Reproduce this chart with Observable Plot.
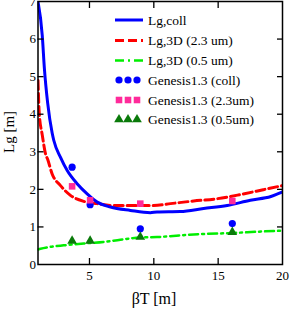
<!DOCTYPE html>
<html><head><meta charset="utf-8">
<script src="https://cdn.jsdelivr.net/npm/d3@7"></script>
<script src="https://cdn.jsdelivr.net/npm/@observablehq/plot@0.6"></script>
<style>body{margin:0;background:#fff} svg text{font-family:'Liberation Serif','Times New Roman',serif;}</style>
</head><body><div id="chart"></div>
<script>
// Lg,coll (solid blue)
const collX = [1, 1.33, 1.5, 1.75, 2.1, 2.23, 2.75, 3.27, 4.04, 4.82, 5.6, 6.63, 8.18, 9.73, 10.25, 12.06, 13.87, 15.7, 17.5, 19.1, 20];
const collY = [7.0, 6.1, 5.2, 4.3, 3.5, 3.30, 2.85, 2.50, 2.15, 1.88, 1.66, 1.53, 1.44, 1.38, 1.40, 1.41, 1.49, 1.57, 1.71, 1.81, 1.93];
// Lg,3D (2.3 um) (red dashed)
const d23X = [1, 1.1, 1.33, 1.58, 1.75, 2.1, 2.75, 3.52, 4.56, 5.6, 6.88, 8.18, 9.99, 11.3, 13.1, 14.9, 16.7, 18.5, 20];
const d23Y = [4.9, 4.0, 3.45, 2.95, 2.8, 2.41, 2.10, 1.84, 1.68, 1.62, 1.57, 1.57, 1.57, 1.62, 1.69, 1.75, 1.86, 1.99, 2.1];
// Lg,3D (0.5 um) (green dash-dot)
const d05X = [1, 1.2, 1.97, 3.0, 4.56, 6.1, 7.4, 8.96, 10.25, 11.5, 13.1, 16.2, 18.5, 20];
const d05Y = [0.40, 0.42, 0.47, 0.51, 0.56, 0.60, 0.66, 0.72, 0.73, 0.76, 0.80, 0.84, 0.88, 0.90];
// Genesis1.3 points
const genX = [3.65, 5.05, 8.95, 16.1];
const genCollY = [2.59, 1.59, 0.95, 1.09];
const gen23Y = [2.08, 1.71, 1.62, 1.69];
const gen05Y = [0.63, 0.63, 0.73, 0.86];
const xTicks = [5, 10, 15, 20];
const yTicks = [0, 1, 2, 3, 4, 5, 6, 7];
const innerTicksX = [5, 10, 15];
const innerTicksY = [1, 2, 3, 4, 5, 6];
const legendLabels = ["Lg,coll", "Lg,3D (2.3 um)", "Lg,3D (0.5 um)", "Genesis1.3 (coll)", "Genesis1.3 (2.3um)", "Genesis1.3 (0.5um)"];

const toRows = (xs, ys) => xs.map((x, i) => ({x, y: ys[i]}));
const coll = toRows(collX, collY);
const d23 = toRows(d23X, d23Y);
const d05 = toRows(d05X, d05Y);
const gColl = toRows(genX, genCollY);
const g23 = toRows(genX, gen23Y);
const g05 = toRows(genX, gen05Y);

const BLUE = "#0000ff", RED = "#ff0000", GREEN = "#00ee00", PINK = "#ff2a9a", DGREEN = "#0a7a0a";
const FONT = "'Liberation Serif', 'Times New Roman', serif";

const svg = Plot.plot({
  width: 291, height: 315,
  marginTop: 1, marginBottom: 51, marginLeft: 37.5, marginRight: 9,
  style: `font-family: ${FONT}; font-size: 13px; background: white; color: black; overflow: visible;`,
  x: {domain: [1, 20], label: null},
  y: {domain: [0, 7], label: null},
  marks: [
    Plot.line(d05, {x: "x", y: "y", stroke: GREEN, strokeWidth: 2.5, strokeDasharray: "9,4,2,4", curve: "monotone-x", clip: true}),
    Plot.line(d23, {x: "x", y: "y", stroke: RED, strokeWidth: 3, strokeDasharray: "9,4", curve: "monotone-x", clip: true}),
    Plot.line(coll, {x: "x", y: "y", stroke: BLUE, strokeWidth: 3, curve: "monotone-x", clip: true}),
    Plot.dot(gColl, {x: "x", y: "y", r: 3.6, fill: BLUE, stroke: null}),
    Plot.dot(g23, {x: "x", y: "y", r: 3.7, symbol: "square", fill: PINK, stroke: null}),
    Plot.dot(g05, {x: "x", y: "y", r: 3.6, symbol: "triangle", fill: DGREEN, stroke: null}),
    Plot.axisX(xTicks, {anchor: "bottom", tickSize: 0, tickPadding: 6, fontSize: 13, fontFamily: FONT, label: null}),
    Plot.axisY(yTicks, {anchor: "left", tickSize: 0, tickPadding: 2, fontSize: 13, fontFamily: FONT, label: null}),
    Plot.axisX(innerTicksX, {anchor: "bottom", tickSize: -6, tickFormat: () => "", label: null, strokeWidth: 1.3}),
    Plot.axisX(innerTicksX, {anchor: "top", tickSize: -6, tickFormat: () => "", label: null, strokeWidth: 1.3}),
    Plot.axisY(innerTicksY, {anchor: "left", tickSize: -6, tickFormat: () => "", label: null, strokeWidth: 1.3}),
    Plot.axisY(innerTicksY, {anchor: "right", tickSize: -6, tickFormat: () => "", label: null, strokeWidth: 1.3}),
    Plot.frame({stroke: "black", strokeWidth: 1.5})
  ]
});

const s = d3.select(svg);
const addText = (sel) => sel.style("font-family", FONT).attr("fill", "black");
// axis titles
addText(s.append("text")).attr("x", 154).attr("y", 298).attr("dy", "0.35em")
  .style("text-anchor", "middle").style("font-size", "16px").text("βT [m]");
addText(s.append("text")).attr("transform", "translate(9,132) rotate(-90)").attr("dy", "0.35em")
  .style("text-anchor", "middle").style("font-size", "15px").text("Lg [m]");

// legend
const rowsY = [20, 40.5, 60.5, 80, 100, 119.5];
const lg = s.append("g");
const x0 = 115, x1 = 143;
lg.append("line").attr("x1", x0).attr("x2", x1).attr("y1", rowsY[0]).attr("y2", rowsY[0]).attr("stroke", BLUE).attr("stroke-width", 3);
lg.append("line").attr("x1", x0).attr("x2", x1).attr("y1", rowsY[1]).attr("y2", rowsY[1]).attr("stroke", RED).attr("stroke-width", 3).attr("stroke-dasharray", "9,4");
lg.append("line").attr("x1", x0).attr("x2", x1).attr("y1", rowsY[2]).attr("y2", rowsY[2]).attr("stroke", GREEN).attr("stroke-width", 2.5).attr("stroke-dasharray", "9,4,2,4");
[119, 128, 137].forEach(cx => {
  lg.append("circle").attr("cx", cx).attr("cy", rowsY[3]).attr("r", 3.6).attr("fill", BLUE);
  lg.append("path").attr("transform", `translate(${cx},${rowsY[4]})`).attr("d", d3.symbol(d3.symbolSquare, Math.PI * 3.7 * 3.7)()).attr("fill", PINK);
  lg.append("path").attr("transform", `translate(${cx},${rowsY[5]})`).attr("d", d3.symbol(d3.symbolTriangle, Math.PI * 3.6 * 3.6)()).attr("fill", DGREEN);
});
legendLabels.forEach((t, i) => {
  addText(lg.append("text")).attr("x", 148).attr("y", rowsY[i]).attr("dy", "0.35em")
    .style("text-anchor", "start").style("font-size", "13.5px").text(t);
});

document.getElementById("chart").appendChild(svg);
</script></body></html>
